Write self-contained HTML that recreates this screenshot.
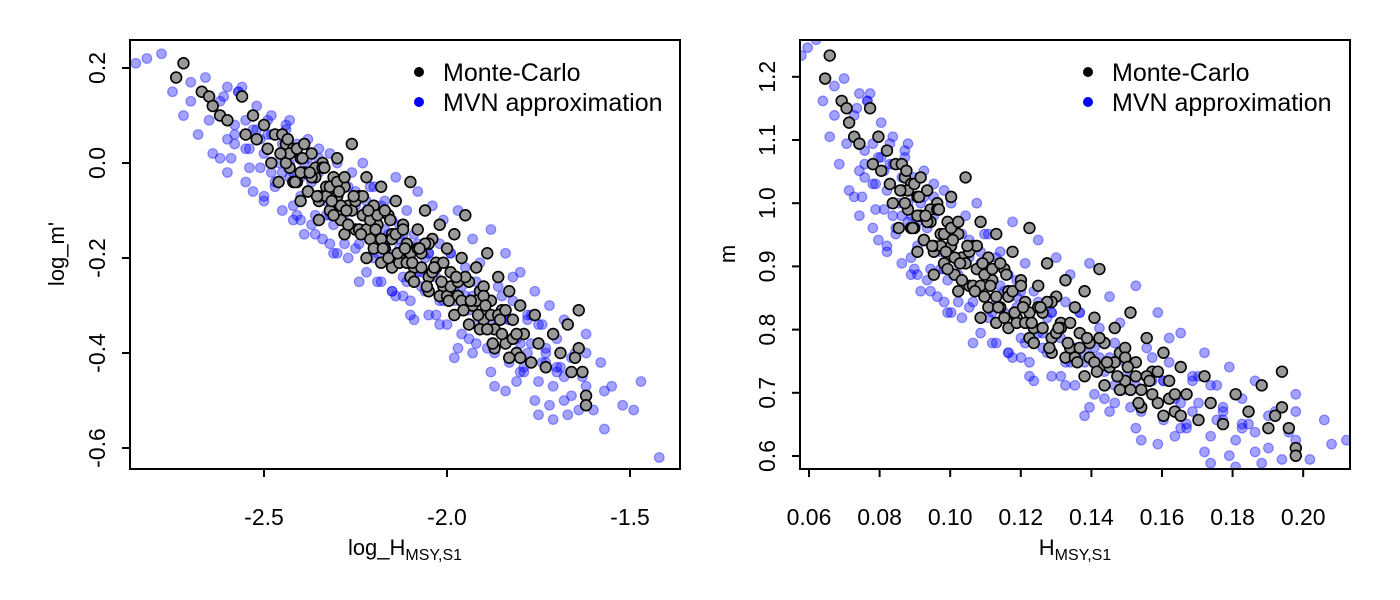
<!DOCTYPE html>
<html><head><meta charset="utf-8">
<style>
html,body{margin:0;padding:0;background:#fff;}
svg{display:block;}
text{font-family:"Liberation Sans",Arial,sans-serif;fill:#000;}
</style></head>
<body>
<svg id="chart" width="1400" height="600" viewBox="0 0 1400 600" xmlns="http://www.w3.org/2000/svg">
<defs>
<clipPath id="clipL"><rect x="130" y="40" width="550" height="429"/></clipPath>
<clipPath id="clipR"><rect x="800" y="40" width="550" height="429"/></clipPath>
</defs>
</svg>
<script>
// Monte-Carlo samples (log_H, log_m')
const mcLogHA = [-2.72,-2.74,-2.67,-2.65,-2.64,-2.62,-2.60,-2.56,-2.55,-2.53,-2.52,-2.50,-2.49,-2.48,-2.47,-2.46,-2.45,-2.44,-2.43,-2.42,-2.41,-2.40,-2.39,-2.38,-2.37,-2.36,-2.35,-2.34,-2.33,-2.32,-2.31,-2.30,-2.30,-2.29,-2.28,-2.27,-2.26,-2.25,-2.24,-2.23,-2.22,-2.21,-2.20,-2.19,-2.18,-2.17,-2.16,-2.15,-2.14,-2.13,-2.12,-2.11,-2.10,-2.09,-2.08,-2.07,-2.06,-2.05,-2.04,-2.03,-2.02,-2.01,-2.00,-1.99,-1.98,-1.97,-1.96,-1.95,-1.94,-1.93,-1.92,-1.91,-1.90,-1.89,-1.88,-1.87,-1.86,-1.85,-1.84,-1.83,-1.82,-1.81,-1.80,-1.79,-1.77,-1.76,-1.75,-1.73,-1.71,-1.69,-1.67,-1.66,-1.64,-1.64,-1.65,-1.63,-1.62,-1.62,-2.22,-2.15,-2.05,-2.35,-2.40,-2.10,-1.95,-2.00,-2.28,-2.18,-1.90];
const mcLogMA = [0.21,0.18,0.15,0.14,0.12,0.10,0.09,0.14,0.06,0.10,0.05,0.08,0.03,0.00,0.06,-0.04,0.02,0.04,-0.01,0.03,-0.04,0.01,-0.02,-0.06,0.02,-0.03,-0.08,0.00,-0.05,-0.10,-0.03,0.01,-0.07,-0.12,-0.05,-0.09,0.04,-0.14,-0.07,-0.11,-0.03,-0.16,-0.09,-0.13,-0.05,-0.18,-0.11,-0.15,-0.08,-0.20,-0.13,-0.17,-0.04,-0.22,-0.14,-0.19,-0.10,-0.24,-0.16,-0.21,-0.13,-0.26,-0.18,-0.23,-0.15,-0.28,-0.20,-0.11,-0.25,-0.30,-0.22,-0.27,-0.33,-0.19,-0.29,-0.35,-0.24,-0.31,-0.38,-0.27,-0.33,-0.40,-0.30,-0.36,-0.42,-0.32,-0.38,-0.43,-0.36,-0.40,-0.34,-0.44,-0.31,-0.39,-0.41,-0.44,-0.49,-0.51,-0.20,-0.22,-0.17,-0.12,-0.08,-0.24,-0.30,-0.28,-0.15,-0.21,-0.26];
const mcLogHB = [-2.45,-2.44,-2.43,-2.42,-2.41,-2.40,-2.39,-2.38,-2.37,-2.36,-2.35,-2.34,-2.33,-2.32,-2.31,-2.30,-2.29,-2.28,-2.27,-2.26,-2.25,-2.24,-2.23,-2.22,-2.21,-2.20,-2.19,-2.18,-2.17,-2.16,-2.15,-2.14,-2.13,-2.12,-2.11,-2.10,-2.09,-2.08,-2.07,-2.06,-2.05,-2.04,-2.03,-2.02,-2.01,-2.00,-1.99,-1.98,-1.97,-1.96,-1.95,-1.94,-1.93,-1.92,-1.91,-1.90,-1.89,-1.88,-1.87,-1.86,-1.85,-1.84,-1.83,-1.82,-1.81,-1.80,
-2.455,-2.435,-2.415,-2.395,-2.375,-2.355,-2.335,-2.315,-2.295,-2.275,-2.255,-2.235,-2.215,-2.195,-2.175,-2.155,-2.135,-2.115,-2.095,-2.075,-2.055,-2.035,-2.015,-1.995,-1.975,-1.955,-1.935,-1.915,-1.895,-1.875,-1.855];
const mcLogMB = [0.06,0.00,0.02,-0.04,0.03,-0.02,0.04,-0.06,-0.03,-0.01,-0.07,-0.01,-0.07,-0.05,-0.11,-0.04,-0.09,-0.03,-0.13,-0.10,-0.08,-0.14,-0.07,-0.14,-0.12,-0.18,-0.11,-0.16,-0.10,-0.20,-0.16,-0.15,-0.21,-0.14,-0.21,-0.19,-0.25,-0.18,-0.22,-0.17,-0.27,-0.23,-0.22,-0.28,-0.21,-0.28,-0.26,-0.32,-0.25,-0.29,-0.24,-0.34,-0.30,-0.29,-0.35,-0.28,-0.35,-0.32,-0.39,-0.32,-0.36,-0.31,-0.41,-0.37,-0.36,-0.41,
0.02,0.05,-0.04,0.01,-0.02,-0.07,-0.01,-0.08,-0.06,-0.10,-0.07,-0.15,-0.10,-0.14,-0.18,-0.12,-0.19,-0.18,-0.21,-0.18,-0.26,-0.22,-0.25,-0.29,-0.24,-0.31,-0.29,-0.32,-0.30,-0.38,-0.33];
// MVN approximation samples (log_H, log_m')
const mvnLogHA = [-2.85,-2.82,-2.78,-2.75,-2.72,-2.70,-2.68,-2.66,-2.64,-2.62,-2.60,-2.58,-2.57,-2.55,-2.54,-2.52,-2.51,-2.50,-2.49,-2.48,-2.47,-2.46,-2.45,-2.44,-2.43,-2.42,-2.41,-2.40,-2.39,-2.38,-2.37,-2.36,-2.35,-2.34,-2.33,-2.32,-2.31,-2.30,-2.29,-2.28,-2.27,-2.26,-2.25,-2.24,-2.23,-2.22,-2.21,-2.20,-2.19,-2.18,-2.17,-2.16,-2.15,-2.14,-2.13,-2.12,-2.11,-2.10,-2.09,-2.08,-2.07,-2.06,-2.05,-2.04,-2.03,-2.02,-2.01,-2.00,-1.99,-1.98,-1.97,-1.96,-1.95,-1.94,-1.93,-1.92,-1.91,-1.90,-1.89,-1.88,-1.87,-1.86,-1.85,-1.84,-1.83,-1.82,-1.81,-1.80,-1.79,-1.78,-1.77,-1.76,-1.75,-1.74,-1.73,-1.72,-1.71,-1.70,-1.69,-1.68,-1.66,-1.65,-1.63,-1.62,-1.60,-1.58,-1.57,-1.57,-1.55,-1.52,-1.49,-1.47,-1.42,-2.60,-2.50,-2.40,-2.30,-2.20,-2.10,-2.00,-1.90,-1.80,-1.70,-2.55,-2.45,-2.35,-2.25,-2.15,-2.05,-1.95,-1.85,-1.75,-2.65,-2.70,-2.32,-2.12,-1.92,-2.42,-2.22,-2.02,-1.82,-1.62,-2.58,-2.48,-2.38,-2.28,-2.18,-2.08,-1.98,-1.88,-1.78,-1.68,-2.53,-2.43,-2.33,-2.23,-2.13,-2.03,-1.93,-1.83,-1.73];
const mvnLogMA = [0.21,0.22,0.23,0.15,0.10,0.17,0.06,0.18,0.02,0.13,-0.02,0.08,0.15,-0.04,0.03,0.12,-0.01,-0.07,0.06,0.10,-0.05,0.00,-0.10,0.07,-0.03,-0.12,0.04,-0.07,-0.15,0.05,-0.04,-0.11,0.03,-0.16,-0.08,0.02,-0.13,-0.19,-0.05,-0.10,-0.20,-0.02,-0.09,-0.17,0.00,-0.23,-0.12,-0.05,-0.19,-0.25,-0.08,-0.15,-0.27,-0.03,-0.18,-0.24,-0.10,-0.29,-0.15,-0.06,-0.26,-0.20,-0.32,-0.09,-0.24,-0.29,-0.12,-0.34,-0.19,-0.27,-0.10,-0.36,-0.24,-0.31,-0.16,-0.38,-0.21,-0.29,-0.35,-0.14,-0.40,-0.26,-0.33,-0.19,-0.42,-0.29,-0.37,-0.23,-0.44,-0.32,-0.38,-0.27,-0.46,-0.34,-0.40,-0.30,-0.47,-0.37,-0.43,-0.33,-0.49,-0.40,-0.45,-0.36,-0.52,-0.42,-0.48,-0.56,-0.47,-0.51,-0.52,-0.46,-0.62,0.05,0.02,-0.03,-0.09,-0.14,-0.20,-0.26,-0.32,-0.38,-0.44,0.09,0.04,-0.02,-0.06,-0.12,-0.19,-0.22,-0.28,-0.34,0.09,0.13,-0.17,-0.28,-0.34,-0.09,-0.08,-0.17,-0.24,-0.40,0.04,-0.02,-0.06,-0.12,-0.17,-0.23,-0.29,-0.34,-0.40,-0.45,0.07,0.00,-0.05,-0.11,-0.16,-0.22,-0.28,-0.33,-0.39];
const mvnLogHB = [-2.62,-2.60,-2.58,-2.56,-2.54,-2.52,-2.50,-2.48,-2.46,-2.44,-2.42,-2.40,-2.38,-2.36,-2.34,-2.32,-2.30,-2.28,-2.26,-2.24,-2.22,-2.20,-2.18,-2.16,-2.14,-2.12,-2.10,-2.08,-2.06,-2.04,-2.02,-2.00,-1.98,-1.96,-1.94,-1.92,-1.90,-1.88,-1.86,-1.84,-1.82,-1.80,-1.78,-1.76,-1.74,-1.72,-1.70,-1.68,-1.66,-1.64,-1.62,
-2.61,-2.59,-2.57,-2.55,-2.53,-2.51,-2.49,-2.47,-2.45,-2.43,-2.41,-2.39,-2.37,-2.35,-2.33,-2.31,-2.29,-2.27,-2.25,-2.23,-2.21,-2.19,-2.17,-2.15,-2.13,-2.11,-2.09,-2.07,-2.05,-2.03,-2.01,-1.99,-1.97,-1.95,-1.93,-1.91,-1.89,-1.87,-1.85,-1.83,-1.81,-1.79,-1.77,-1.75,-1.73,-1.71,-1.69,-1.67];
const mvnLogMB = [0.01,0.16,0.06,0.16,-0.01,0.07,-0.08,0.06,-0.04,0.08,-0.02,-0.12,0.01,-0.15,-0.01,-0.11,0.00,-0.17,-0.10,-0.25,-0.10,-0.20,-0.09,-0.19,-0.28,-0.15,-0.32,-0.17,-0.27,-0.16,-0.34,-0.26,-0.41,-0.26,-0.37,-0.25,-0.35,-0.44,-0.32,-0.48,-0.33,-0.44,-0.33,-0.50,-0.42,-0.51,-0.43,-0.50,-0.41,-0.52,-0.47,
0.14,0.01,0.15,0.03,-0.06,0.05,0.09,-0.04,-0.02,0.09,-0.11,0.00,-0.13,0.01,-0.11,-0.19,-0.09,-0.05,-0.18,-0.15,-0.05,-0.25,-0.14,-0.27,-0.13,-0.25,-0.33,-0.23,-0.19,-0.32,-0.29,-0.19,-0.39,-0.28,-0.40,-0.27,-0.39,-0.47,-0.36,-0.33,-0.46,-0.43,-0.32,-0.53,-0.42,-0.54,-0.40,-0.53];

const mcLogH = mcLogHA.concat(mcLogHB);
const mcLogM = mcLogMA.concat(mcLogMB);
const mvnLogH = mvnLogHA.concat(mvnLogHB);
const mvnLogM = mvnLogMA.concat(mvnLogMB);

const leftXTicks = [-2.5,-2.0,-1.5];
const leftXTickLabels = ["-2.5","-2.0","-1.5"];
const leftYTicks = [0.2,0.0,-0.2,-0.4,-0.6];
const leftYTickLabels = ["0.2","0.0","-0.2","-0.4","-0.6"];
const rightXTicks = [0.06,0.08,0.10,0.12,0.14,0.16,0.18,0.20];
const rightXTickLabels = ["0.06","0.08","0.10","0.12","0.14","0.16","0.18","0.20"];
const rightYTicks = [0.6,0.7,0.8,0.9,1.0,1.1,1.2];
const rightYTickLabels = ["0.6","0.7","0.8","0.9","1.0","1.1","1.2"];

const NS = "http://www.w3.org/2000/svg";
const svg = document.getElementById('chart');
function mk(tag, attrs, parent){const e=document.createElementNS(NS,tag);for(const k in attrs)e.setAttribute(k,attrs[k]);(parent||svg).appendChild(e);return e;}

const lx = v => 264 + (v + 2.5) * 366;
const ly = v => 163 - v * 475;
const rx = v => 809 + (v - 0.06) * 3530;
const ry = v => 456 - (v - 0.6) * 632;

function panel(name, clipId, bx, by, bw, bh, xt, xtl, yt, ytl, sx, sy, tf){
  const g = mk('g', {'clip-path':'url(#'+clipId+')'});
  
  
  for (let i=0;i<mvnLogH.length;i++){
    const c = mk('circle',{cx:sx(tf(mvnLogH[i])),cy:sy(tf(mvnLogM[i])),r:4.8,fill:'rgba(0,0,255,0.36)',stroke:'rgba(0,0,255,0.4)','stroke-width':1.2},g);
    
    
  }
  for (let i=0;i<mcLogH.length;i++){
    const c = mk('circle',{cx:sx(tf(mcLogH[i])),cy:sy(tf(mcLogM[i])),r:5.4,fill:'#999',stroke:'#000','stroke-width':1.6},g);
    
    
  }
  const box = mk('rect',{x:bx,y:by,width:bw,height:bh,fill:'none',stroke:'#000','stroke-width':2});
  
  
  xt.forEach((t,i)=>{
    const x = sx(t);
    mk('line',{x1:x,x2:x,y1:by+bh,y2:by+bh+8,stroke:'#000','stroke-width':2});
    const tx = mk('text',{x:x,y:525,'font-size':23,'text-anchor':'middle'});
    tx.textContent = xtl[i];
    
    
  });
  yt.forEach((t,i)=>{
    const y = sy(t);
    mk('line',{x1:bx,x2:bx-8,y1:y,y2:y,stroke:'#000','stroke-width':2});
    const tx = mk('text',{x:0,y:0,'font-size':23,'text-anchor':'middle',transform:'translate('+(bx-25)+','+y+') rotate(-90)'});
    tx.textContent = ytl[i];
    
    
  });
}
panel('left-panel','clipL',130,40,550,429,leftXTicks,leftXTickLabels,leftYTicks,leftYTickLabels,lx,ly,(v)=>v);
panel('right-panel','clipR',800,40,550,429,rightXTicks,rightXTickLabels,rightYTicks,rightYTickLabels,rx,ry,(v)=>Math.exp(v));

function legend(name, x){
  const g = mk('g',{});
  
  
  mk('circle',{cx:x,cy:72,r:5,fill:'#000'},g);
  const t1 = mk('text',{x:x+24,y:81,'font-size':25},g); t1.textContent='Monte-Carlo';
  
  
  mk('circle',{cx:x,cy:102,r:5,fill:'#0000ff'},g);
  const t2 = mk('text',{x:x+24,y:111,'font-size':25},g); t2.textContent='MVN approximation';
  
  
}
legend('left-legend',419);
legend('right-legend',1088);

function xlabel(name, cx, main){
  const t = mk('text',{x:cx,y:555,'font-size':22,'text-anchor':'middle'});
  
  
  const a = mk('tspan',{},t); a.textContent = main;
  const b = mk('tspan',{dy:5,'font-size':16},t); b.textContent = 'MSY,S1';
}
xlabel('left-x-axis-title',405,'log_H');
xlabel('right-x-axis-title',1075,'H');

const yl1 = mk('text',{x:0,y:0,'font-size':22,'text-anchor':'middle',transform:'translate(64,254) rotate(-90)'});
yl1.textContent = "log_m'";


const yl2 = mk('text',{x:0,y:0,'font-size':22,'text-anchor':'middle',transform:'translate(735,254) rotate(-90)'});
yl2.textContent = "m";


</script>
</body></html>
